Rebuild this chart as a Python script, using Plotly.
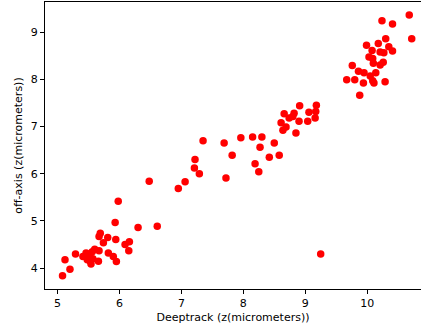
import plotly.graph_objects as go

deeptrack_z = [
    5.08, 5.20, 5.12, 5.29, 5.41, 5.46, 5.50, 5.52, 5.53, 5.54, 5.57, 5.56, 5.48, 5.60,
    5.67, 5.66, 5.69, 5.67, 5.74, 5.81, 5.82, 5.90, 5.95, 5.94, 5.93, 5.98, 6.09, 6.16,
    6.15, 6.30, 6.48, 6.61,
    6.95, 7.06, 7.21, 7.29, 7.22, 7.35, 7.72, 7.69, 7.82, 7.96, 8.15, 8.30, 8.27, 8.19,
    8.25, 8.42, 8.50, 8.58, 8.61, 8.64, 8.69, 8.66, 8.74, 8.80, 8.82, 8.91, 8.85, 8.90,
    9.04, 9.06, 9.18, 9.17, 9.16,
    9.25,
    9.88, 9.67, 9.80, 9.94, 10.09, 10.11, 10.29, 9.76, 9.86, 9.95, 10.05, 10.14, 10.21,
    10.10, 10.26, 10.03, 10.09, 10.21, 10.27, 10.08, 10.41, 10.35, 9.99, 10.18, 10.30,
    10.72, 10.24, 10.41, 10.68,
]
off_axis_z = [
    3.84, 3.98, 4.18, 4.30, 4.25, 4.32, 4.23, 4.30, 4.14, 4.09, 4.20, 4.35, 4.18, 4.40,
    4.37, 4.15, 4.74, 4.67, 4.54, 4.65, 4.32, 4.25, 4.14, 4.61, 4.97, 5.42, 4.50, 4.56,
    4.37, 4.86, 5.84, 4.89,
    5.69, 5.83, 6.12, 6.00, 6.30, 6.70, 5.91, 6.65, 6.39, 6.76, 6.78, 6.78, 6.56, 6.21,
    6.04, 6.35, 6.65, 6.39, 7.08, 6.92, 6.99, 7.27, 7.18, 7.21, 7.28, 7.44, 6.86, 7.11,
    7.11, 7.30, 7.45, 7.32, 7.18,
    4.30,
    7.66, 7.99, 7.99, 7.92, 7.97, 7.92, 7.95, 8.29, 8.17, 8.14, 8.07, 8.14, 8.30,
    8.34, 8.36, 8.47, 8.44, 8.58, 8.56, 8.61, 8.60, 8.69, 8.72, 8.76, 8.86,
    8.86, 9.24, 9.17, 9.36,
]

x_ticks = [5, 6, 7, 8, 9, 10]
y_ticks = [4, 5, 6, 7, 8, 9]

fig = go.Figure(go.Scatter(
    x=deeptrack_z, y=off_axis_z, mode="markers",
    marker=dict(color="red", size=7.5, line=dict(width=0)),
    cliponaxis=True,
))

font = dict(family="DejaVu Sans", size=11, color="black")
axis_common = dict(
    showgrid=False, zeroline=False, showline=True, linecolor="black", linewidth=1,
    mirror=True, ticks="outside", ticklen=4, tickwidth=1, tickcolor="black",
    tickfont=font, automargin=False,
)
fig.update_layout(
    width=421, height=330,
    margin=dict(l=45, r=0, t=2, b=41),
    paper_bgcolor="white", plot_bgcolor="white",
    showlegend=False,
    font=font,
    xaxis=dict(range=[4.797, 10.87], tickvals=x_ticks,
               title=dict(text="Deeptrack (z(micrometers))", font=font, standoff=4),
               **axis_common),
    yaxis=dict(range=[3.56, 9.636], tickvals=y_ticks,
               title=dict(text="off-axis (z(micrometers))", font=font, standoff=5),
               **axis_common),
)
fig.write_html("out.html", config={"displayModeBar": False},
               post_script="document.body.style.margin='0';document.body.style.overflow='hidden';")
